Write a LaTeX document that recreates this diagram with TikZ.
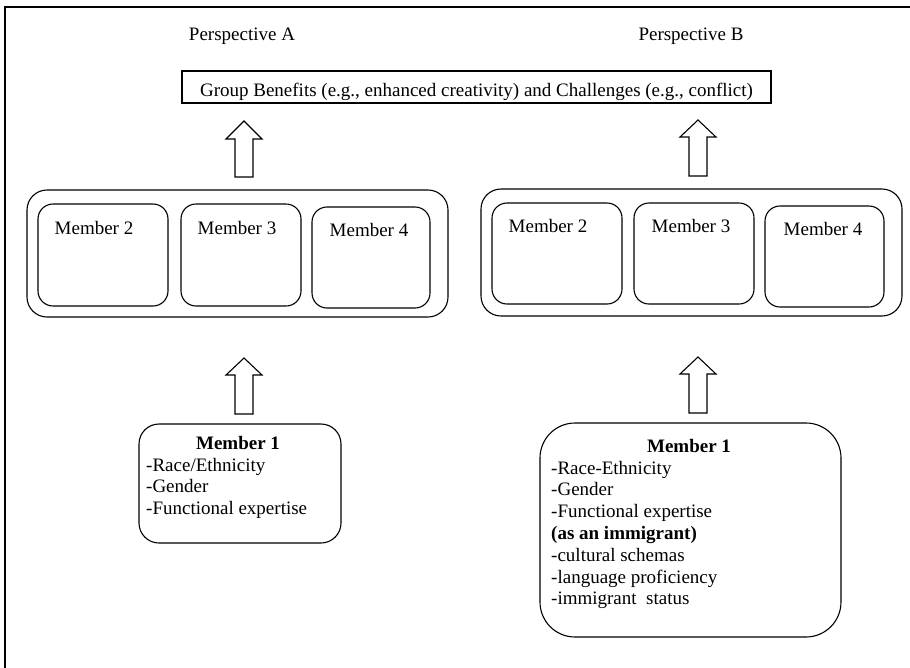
\documentclass[tikz,border=0pt]{standalone}
\usepackage{fontspec}
\setmainfont{Liberation Serif}
\begin{document}
\begin{tikzpicture}[x=1pt,y=-1pt,
  every node/.style={font=\fontsize{19}{21.8}\selectfont, inner sep=0pt},
  box/.style={draw, line width=1.1pt},
  outerbox/.style={box, rounded corners=20pt},
  mbox/.style={box, rounded corners=15pt},
  lbl/.style={anchor=base},
  lline/.style={anchor=base west},
  barrow/.style={draw, line width=1.1pt, fill=white, line join=miter}]
\useasboundingbox (0,0) rectangle (910,667);
% frame (only top and left visible)
\draw[line width=1.3pt] (5,670) -- (5,7) -- (912,7);
% perspective labels
\node[lbl] (pa) at (242,40) {Perspective A};
\node[lbl] (pb) at (691,40) {Perspective B};
% top box
\node[box, minimum width=589pt, minimum height=32pt] (top) at (476.5,87) {};
\node[lbl] (toptxt) at (476.5,96) {Group Benefits (e.g., enhanced creativity) and Challenges (e.g., conflict)};
% group A
\node[outerbox, minimum width=421pt, minimum height=127pt] (ga) at (237.5,253.5) {};
\node[mbox, minimum width=130pt, minimum height=102pt] (a2) at (103,255) {};
\node[mbox, minimum width=120pt, minimum height=102pt] (a3) at (241,255) {};
\node[mbox, minimum width=118pt, minimum height=101pt] (a4) at (371,257.5) {};
\node[lbl] (a2t) at (94,234) {Member 2};
\node[lbl] (a3t) at (237,234) {Member 3};
\node[lbl] (a4t) at (369,236) {Member 4};
% group B
\node[outerbox, minimum width=421pt, minimum height=127pt] (gb) at (691.5,252.5) {};
\node[mbox, minimum width=130pt, minimum height=101pt] (b2) at (557,253.5) {};
\node[mbox, minimum width=120pt, minimum height=101pt] (b3) at (694,253.5) {};
\node[mbox, minimum width=119pt, minimum height=101pt] (b4) at (824.5,256.5) {};
\node[lbl] (b2t) at (548,232) {Member 2};
\node[lbl] (b3t) at (691,232) {Member 3};
\node[lbl] (b4t) at (823,235) {Member 4};
% member 1 A
\node[box, rounded corners=20pt, minimum width=202pt, minimum height=119pt] (m1a) at (240,483.5) {};
\node[lbl] (m1at) at (238,449) {\bfseries Member 1};
\node[lline] (m1a1) at (146,471) {-Race/Ethnicity};
\node[lline] (m1a2) at (146,492.5) {-Gender};
\node[lline] (m1a3) at (146,514) {-Functional expertise};
% member 1 B
\node[box, rounded corners=35pt, minimum width=301pt, minimum height=214pt] (m1b) at (690.5,530) {};
\node[lbl] (m1bt) at (689,452) {\bfseries Member 1};
\node[lline] (m1b1) at (551,474) {-Race-Ethnicity};
\node[lline] (m1b2) at (551,495.8) {-Gender};
\node[lline] (m1b3) at (551,517.6) {-Functional expertise};
\node[lline] (m1b4) at (551,539.4) {\bfseries (as an immigrant)};
\node[lline] (m1b5) at (551,561.2) {-cultural schemas};
\node[lline] (m1b6) at (551,583) {-language proficiency};
\node[lline] (m1b7) at (551,604.8) {-immigrant\ \ status};
% block arrows
\newcommand\blockarrow[4]{%
  \draw[barrow] (#1,#2) -- (#1+18,#3) -- (#1+9,#3) -- (#1+9,#4) -- (#1-9,#4) -- (#1-9,#3) -- (#1-18,#3) -- cycle;}
\blockarrow{244}{121}{139}{177}
\blockarrow{698}{120}{137}{176}
\blockarrow{244}{358}{375}{414}
\blockarrow{698}{357}{374}{413}
\end{tikzpicture}
\end{document}
